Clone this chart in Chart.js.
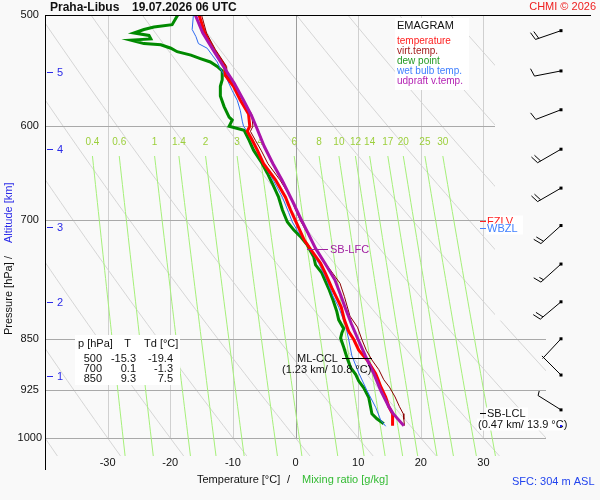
<!DOCTYPE html>
<html><head><meta charset="utf-8">
<script src="https://cdn.jsdelivr.net/npm/chart.js@4.4.1/dist/chart.umd.min.js"></script>
<style>html,body{margin:0;padding:0;background:#f9f9f9;overflow:hidden}#wrap{width:600px;height:500px}</style>
</head><body><div id="wrap"><canvas id="c" width="600" height="500"></canvas></div>
<script>
// ---------- data ----------
const pressureTicks = [500, 600, 700, 850, 925, 1000];
const tempTicks = [-30, -20, -10, 0, 10, 20, 30];
const altKm = [1, 2, 3, 4, 5];
const altP = [903.3, 799.9, 708.1, 623.1, 548.7];
const mixRatios = [0.4, 0.6, 1, 1.4, 2, 3, 4, 6, 8, 10, 12, 14, 17, 20, 25, 30];
const thetaC = [-40, -30, -20, -10, 0, 10, 20, 30, 40, 50, 60, 70, 80, 90, 100, 110, 120];

const tempP = [500, 515, 529, 544, 552, 562, 575, 588, 600, 605, 614, 624, 638, 655, 674, 688, 702, 723, 735, 751, 764, 782, 807, 824, 840, 851, 866, 881, 900, 909, 919, 935, 950, 961, 980];
const tempT = [-15.4, -14.5, -13.1, -11.3, -11.2, -9.9, -8.8, -7.5, -7.3, -7.7, -6.9, -6.1, -5.1, -3.2, -1.6, -0.8, 0.1, 1.4, 2.5, 4.0, 4.8, 5.8, 7.3, 7.8, 8.5, 9.3, 10.1, 11.5, 12.8, 13.2, 13.6, 14.4, 14.9, 15.5, 15.5];

const virtP = [500, 515, 529, 544, 552, 562, 575, 588, 600, 605, 614, 624, 638, 655, 674, 688, 702, 727, 747, 764, 776, 793, 819, 834, 851, 866, 880, 894, 909, 920, 935, 950, 961, 970, 980];
const virtT = [-15.0, -14.2, -12.8, -11.0, -10.9, -9.5, -8.4, -7.0, -6.8, -7.2, -6.4, -5.5, -4.4, -2.5, -0.8, 0.0, 0.9, 2.8, 4.4, 6.0, 7.1, 7.8, 8.7, 9.9, 10.6, 11.3, 12.2, 13.3, 14.1, 15.0, 15.9, 16.6, 17.2, 17.3, 17.4];

const dewP = [500, 508, 510, 512, 515, 517, 520, 521, 524, 525, 528, 531, 534, 537, 540, 544, 548, 556, 562, 571, 581, 591, 594, 600, 604, 614, 624, 638, 648, 659, 674, 688, 702, 711, 719, 729, 735, 743, 753, 763, 772, 785, 798, 813, 824, 836, 842, 849, 862, 876, 891, 901, 911, 921, 936, 951, 961, 969, 977];
const dewT = [-18.8, -19.7, -22.6, -24.2, -25.8, -23.4, -23.1, -26.3, -24.2, -21.5, -19.9, -18.9, -16.7, -15.2, -13.6, -12.5, -11.7, -11.7, -12.0, -12.0, -11.4, -10.6, -10.1, -10.6, -8.2, -7.4, -6.7, -5.3, -4.5, -3.7, -2.7, -2.1, -1.3, -0.3, 0.8, 1.9, 2.3, 2.9, 3.2, 4.2, 4.7, 5.4, 6.0, 6.6, 6.9, 7.7, 7.4, 7.2, 7.7, 8.2, 8.8, 9.6, 10.1, 10.9, 11.7, 12.0, 12.2, 13.0, 14.1];

const wetP = [500, 512, 518, 524, 528, 534, 540, 546, 556, 566, 575, 585, 595, 600, 605, 620, 638, 656, 674, 691, 702, 712, 722, 735, 751, 772, 793, 807, 832, 851, 874, 899, 925, 951, 971, 981];
const wetT = [-16.3, -16.5, -15.9, -15.5, -14.1, -13.3, -12.5, -12.0, -10.9, -10.1, -9.3, -8.8, -8.5, -8.3, -7.7, -6.4, -5.1, -3.5, -2.1, -1.1, -0.5, 0.3, 1.3, 2.4, 3.7, 5.0, 6.0, 6.9, 8.0, 8.5, 9.0, 10.1, 11.4, 12.8, 13.6, 14.4];

const updP = [500, 515, 529, 544, 559, 575, 590, 600, 620, 638, 656, 681, 696, 712, 733, 751, 772, 793, 807, 829, 851, 875, 900, 925, 950, 961, 970, 980];
const updT = [-16.0, -14.8, -13.2, -11.5, -9.8, -8.3, -7.0, -6.3, -5.0, -3.6, -2.1, -0.3, 0.7, 1.8, 3.2, 4.7, 6.3, 7.3, 7.9, 8.9, 10.0, 11.2, 12.5, 13.6, 14.9, 15.6, 16.4, 17.3];

const windP = [513, 548, 584, 623, 664, 706, 752, 800, 850, 902, 955];
const windDir = [251, 259, 249, 240, 240, 228, 228, 230, 223, 315, 302];
const windKt = [20, 10, 10, 20, 20, 20, 15, 20, 3, 3, 5];

const tableP = ['500', '700', '850'];
const tableT = ['-15.3', '0.1', '9.3'];
const tableTd = ['-19.4', '-1.3', '7.5'];

const surfaceP = 980;
const lfcP = 734, cclP = 877, lclP = 960.6, fzlvP = 700.8, wbzlP = 708.6;

// ---------- helpers ----------
const BG = '#f9f9f9';
const FONT = '"Liberation Sans", Arial, sans-serif';
function satT(w, p) { const es = w * p / (622 + w); const L = Math.log(es / 6.112); return 243.5 * L / (17.67 - L); }
function pts(P, T) { return P.map((p, i) => ({ x: T[i], y: p })); }
function line(label, P, T, color, width, order) {
  return { label, data: pts(P, T), borderColor: color, backgroundColor: color, borderWidth: width,
    showLine: true, pointRadius: 0, pointHoverRadius: 0, order, tension: 0, fill: false, borderJoinStyle: 'miter' };
}

const gridPlugin = {
  id: 'emagramGrid',
  beforeDraw(chart) {
    const c = chart.ctx; c.save(); c.fillStyle = BG; c.fillRect(0, 0, chart.width, chart.height); c.restore();
  },
  beforeDatasetsDraw(chart) {
    const c = chart.ctx, a = chart.chartArea, x = chart.scales.x, y = chart.scales.y;
    c.save();
    c.beginPath(); c.rect(a.left, a.top, a.right - a.left, a.bottom - a.top); c.clip();
    c.lineWidth = 1;
    // dry adiabats
    c.strokeStyle = '#d6d6d6';
    thetaC.forEach(th => {
      c.beginPath();
      for (let p = 500; p <= 1030; p += 10) {
        const T = (th + 273.15) * Math.pow(p / 1000, 0.2857) - 273.15;
        const px = x.getPixelForValue(T), py = y.getPixelForValue(p);
        if (p === 500) c.moveTo(px, py); else c.lineTo(px, py);
      }
      c.stroke();
    });
    // isotherms
    tempTicks.forEach(t => {
      c.strokeStyle = t === 0 ? '#9c9c9c' : '#d0d0d0';
      const px = Math.round(x.getPixelForValue(t)) + 0.5;
      c.beginPath(); c.moveTo(px, y.getPixelForValue(500)); c.lineTo(px, y.getPixelForValue(1000)); c.stroke();
    });
    // isobars
    c.strokeStyle = '#a9a9a9';
    pressureTicks.slice(1).forEach(p => {
      const py = Math.round(y.getPixelForValue(p)) + 0.5;
      c.beginPath(); c.moveTo(a.left, py); c.lineTo(a.right, py); c.stroke();
    });
    // mixing ratio lines
    c.strokeStyle = '#a6f07a';
    mixRatios.forEach(w => {
      c.beginPath();
      for (let p = 630; p <= 1030; p += 10) {
        const px = x.getPixelForValue(satT(w, p)), py = y.getPixelForValue(p);
        if (p === 630) c.moveTo(px, py); else c.lineTo(px, py);
      }
      c.stroke();
    });
    c.restore();
    // mixing ratio labels
    c.save();
    c.font = '10px ' + FONT; c.fillStyle = '#9ccf3c'; c.textAlign = 'center'; c.textBaseline = 'middle';
    mixRatios.forEach(w => c.fillText(String(w), x.getPixelForValue(satT(w, 630)), y.getPixelForValue(615.5)));
    // blank region behind wind barbs
    c.fillStyle = BG;
    c.fillRect(495, a.top + 1, chart.width - 495, y.getPixelForValue(825) - a.top - 1);
    // altitude ticks
    c.strokeStyle = '#2a2ae8'; c.fillStyle = '#2a2ae8'; c.font = '11px ' + FONT; c.textAlign = 'left';
    altKm.forEach((k, i) => {
      const py = Math.round(y.getPixelForValue(altP[i])) + 0.5;
      c.beginPath(); c.moveTo(47, py); c.lineTo(53, py); c.stroke();
      c.fillText(String(k), 57, py);
    });
    c.restore();
  },
  afterDatasetsDraw(chart) {
    const c = chart.ctx, a = chart.chartArea, x = chart.scales.x, y = chart.scales.y;
    c.save();
    c.textBaseline = 'middle';
    // frame lines
    c.strokeStyle = '#000'; c.lineWidth = 1;
    c.beginPath(); c.moveTo(a.left, a.top + 0.5); c.lineTo(591, a.top + 0.5); c.stroke();
    c.beginPath(); c.moveTo(a.left + 0.5, a.top); c.lineTo(a.left + 0.5, 470); c.stroke();

    // title
    c.fillStyle = '#111'; c.font = 'bold 12px ' + FONT; c.textAlign = 'left';
    c.fillText('Praha-Libus', 50, 7.5);
    c.fillText('19.07.2026 06 UTC', 132, 7.5);
    c.font = '11px ' + FONT; c.fillStyle = '#ee2020'; c.textAlign = 'right';
    c.fillText('CHMI \u00A9 2026', 596, 7);

    // legend box
    c.fillStyle = '#ffffff'; c.fillRect(395, 18, 74, 72);
    c.textAlign = 'left';
    c.fillStyle = '#111'; c.font = '11px ' + FONT; c.fillText('EMAGRAM', 397, 26);
    c.font = '10px ' + FONT;
    const leg = [['temperature', '#ff2020'], ['virt.temp.', '#a52020'], ['dew point', '#229922'], ['wet bulb temp.', '#3f7fff'], ['udpraft v.temp.', '#b424b4']];
    leg.forEach((l, i) => { c.fillStyle = l[1]; c.fillText(l[0], 397, 41.7 + i * 10); });

    // table
    c.fillStyle = '#ffffff'; c.fillRect(75, 335, 105, 50);
    c.fillStyle = '#111'; c.font = '11px ' + FONT;
    c.textAlign = 'left'; c.fillText('p [hPa]', 78, 343.5);
    c.textAlign = 'center'; c.fillText('T', 127.5, 343.5);
    c.textAlign = 'left'; c.fillText('Td [\u00B0C]', 144, 343.5);
    c.textAlign = 'right';
    tableP.forEach((p, i) => {
      const ty = 358.7 + i * 10;
      c.fillText(p, 102, ty); c.fillText(tableT[i], 136, ty); c.fillText(tableTd[i], 173, ty);
    });

    // SB-LFC
    let py = Math.round(y.getPixelForValue(lfcP)) + 0.5;
    c.strokeStyle = '#a020a0'; c.beginPath(); c.moveTo(307, py); c.lineTo(328, py); c.stroke();
    c.fillStyle = '#a020a0'; c.textAlign = 'left'; c.fillText('SB-LFC', 330, py);

    // ML-CCL
    py = Math.round(y.getPixelForValue(cclP)) + 0.5;
    c.strokeStyle = '#000'; c.beginPath(); c.moveTo(342, py); c.lineTo(372, py); c.stroke();
    c.fillStyle = '#111'; c.fillText('ML-CCL', 297, py);
    c.fillText('(1.23 km/ 10.8 \u00B0C)', 282, py + 11);

    // SB-LCL
    py = Math.round(y.getPixelForValue(lclP)) + 0.5;
    c.fillStyle = '#ffffff'; c.fillRect(486, py - 6, 42, 12); c.fillRect(477, py + 5, 86, 12);
    c.strokeStyle = '#000'; c.beginPath(); c.moveTo(480, py); c.lineTo(486, py); c.stroke();
    c.fillStyle = '#111'; c.fillText('SB-LCL', 487, py);
    c.fillText('(0.47 km/ 13.9 \u00B0C)', 478, py + 11);

    // FZLV / WBZL
    py = Math.round(y.getPixelForValue(fzlvP)) + 0.5;
    c.fillStyle = '#ffffff'; c.fillRect(486, py - 6, 37, 10);
    c.strokeStyle = '#ff2020'; c.beginPath(); c.moveTo(480, py); c.lineTo(486, py); c.stroke();
    c.fillStyle = '#ff2020'; c.fillText('FZLV', 487, py);
    py = Math.round(y.getPixelForValue(wbzlP)) + 0.5;
    c.fillStyle = '#ffffff'; c.fillRect(486, py - 5, 37, 11);
    c.strokeStyle = '#3f7fff'; c.beginPath(); c.moveTo(480, py); c.lineTo(486, py); c.stroke();
    c.fillStyle = '#3f7fff'; c.fillText('WBZL', 487, py);

    // wind barbs
    c.strokeStyle = '#000'; c.fillStyle = '#000'; c.lineWidth = 1;
    windP.forEach((p, i) => {
      const bx = 561, by = y.getPixelForValue(p);
      const r = windDir[i] * Math.PI / 180, sx = Math.sin(r), sy = -Math.cos(r);
      const L = 27, tx = bx + sx * L, ty = by + sy * L, qx = -sy, qy = sx;
      c.fillRect(bx - 1.5, by - 1.5, 3, 3);
      c.beginPath(); c.moveTo(bx, by); c.lineTo(tx, ty); c.stroke();
      let kt = windKt[i], pos = 0;
      while (kt >= 10) {
        const ox = tx - sx * pos, oy = ty - sy * pos;
        c.beginPath(); c.moveTo(ox, oy); c.lineTo(ox + qx * 8 + sx * 2.5, oy + qy * 8 + sy * 2.5); c.stroke();
        kt -= 10; pos += 3.5;
      }
      if (kt >= 5) {
        const ox = tx - sx * pos, oy = ty - sy * pos;
        c.beginPath(); c.moveTo(ox, oy); c.lineTo(ox + qx * 4.5 + sx * 1.5, oy + qy * 4.5 + sy * 1.5); c.stroke();
      }
    });
    c.fillStyle = '#1a1aff'; c.fillRect(560, Math.round(y.getPixelForValue(surfaceP)) - 1, 2, 2);

    // axis titles
    c.font = '11px ' + FONT; c.textAlign = 'left';
    c.fillStyle = '#111'; c.fillText('Temperature [\u00B0C]', 197, 480);
    c.fillText('/', 287, 480);
    c.fillStyle = '#33bb33'; c.fillText('Mixing ratio [g/kg]', 302, 480);
    c.fillStyle = '#2244ee'; c.fillText('SFC: 304 m ASL', 512, 481.5);

    c.save();
    c.translate(9, 335); c.rotate(-Math.PI / 2);
    c.fillStyle = '#111'; c.fillText('Pressure [hPa]', 0, 0);
    c.fillText('/', 76, 0);
    c.fillStyle = '#2a2ae8'; c.fillText('Altitude [km]', 92, 0);
    c.restore();
    c.restore();
  }
};

new Chart(document.getElementById('c').getContext('2d'), {
  type: 'scatter',
  data: {
    datasets: [
      line('udpraft v.temp.', updP, updT, '#aa14aa', 3, 1),
      line('virt.temp.', virtP, virtT, '#8b0000', 1, 2),
      line('temperature', tempP, tempT, '#ff0000', 3, 3),
      line('wet bulb temp.', wetP, wetT, '#2f6cf0', 1, 4),
      line('dew point', dewP, dewT, '#008a00', 3, 5)
    ]
  },
  options: {
    responsive: false, animation: false, events: [],
    layout: { padding: { left: 0, right: 54, top: 15, bottom: 0 } },
    plugins: { legend: { display: false }, tooltip: { enabled: false } },
    scales: {
      x: {
        type: 'linear', min: -40, max: 40,
        afterFit(s) { s.height = 44; },
        afterBuildTicks(s) { s.ticks = tempTicks.map(v => ({ value: v })); },
        grid: { display: false, drawTicks: false }, border: { display: false },
        ticks: { font: { family: FONT, size: 11 }, color: '#111', padding: 0, maxRotation: 0, autoSkip: false }
      },
      y: {
        type: 'logarithmic', min: 500, max: 1030, reverse: true,
        afterFit(s) { s.width = 45; },
        afterBuildTicks(s) { s.ticks = pressureTicks.map(v => ({ value: v })); },
        grid: { display: false, drawTicks: false }, border: { display: false },
        ticks: { font: { family: FONT, size: 11 }, color: '#111', padding: 3, crossAlign: 'center', autoSkip: false, callback: v => String(v) }
      }
    }
  },
  plugins: [gridPlugin]
});
</script></body></html>
